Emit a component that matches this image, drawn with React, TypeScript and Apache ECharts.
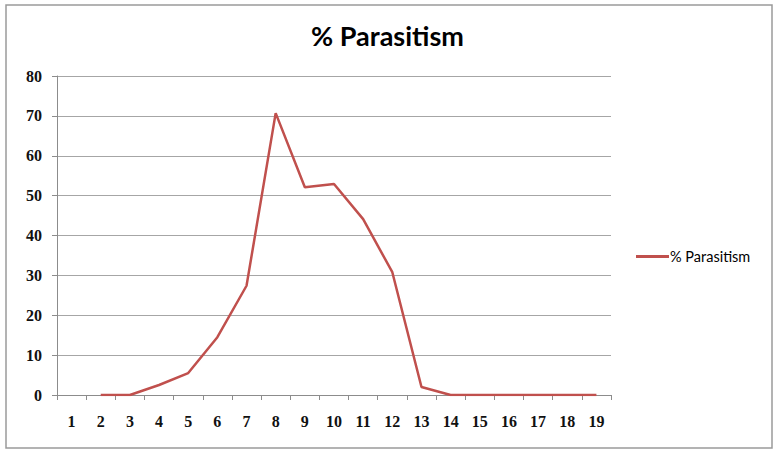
import React, { useEffect, useRef } from "react";
import * as echarts from "echarts";

const categories = ["1", "2", "3", "4", "5", "6", "7", "8", "9", "10", "11", "12", "13", "14", "15", "16", "17", "18", "19"];
const parasitism: (number | null)[] = [null, 0, 0, 2.5, 5.5, 14.5, 27.4, 70.7, 52.1, 52.9, 44.1, 30.8, 2, 0, 0, 0, 0, 0, 0];
const seriesName = "% Parasitism";
const titleText = "% Parasitism";

export default function App() {
  const ref = useRef<HTMLDivElement>(null);
  useEffect(() => {
    if (!ref.current) return;
    const chart = echarts.init(ref.current, undefined, { renderer: "svg" });
    chart.setOption({
      animation: false,
      backgroundColor: "#ffffff",
      title: {
        text: titleText,
        left: "center",
        top: 17,
        textStyle: { fontFamily: "Lato", fontWeight: "bold", fontSize: 27, color: "#000" },
      },
      graphic: [
        {
          type: "rect",
          shape: { x: 6, y: 5, width: 766, height: 443 },
          style: { fill: "none", stroke: "#9a9a9a", lineWidth: 1.5 },
          silent: true,
        },
      ],
      legend: {
        left: 631,
        top: 244,
        icon: "rect",
        itemWidth: 33,
        itemHeight: 3,
        itemGap: 6,
        textStyle: { fontFamily: "Lato", fontSize: 14.5, color: "#000", padding: [0, 0, 0, -4] },
        data: [seriesName],
      },
      grid: { left: 57, right: 164, top: 76, bottom: 55, containLabel: false },
      xAxis: {
        type: "category",
        data: categories,
        boundaryGap: true,
        axisLine: { show: true, lineStyle: { color: "#8c8c8c", width: 1 } },
        axisTick: { show: true, length: 5, inside: false, alignWithLabel: false, lineStyle: { color: "#8c8c8c" } },
        axisLabel: { margin: 18, fontFamily: "Liberation Serif", fontWeight: "bold", fontSize: 16, color: "#111" },
      },
      yAxis: {
        type: "value",
        min: 0,
        max: 80,
        interval: 10,
        axisLine: { show: true, lineStyle: { color: "#8c8c8c", width: 1 } },
        axisTick: { show: true, length: 5, lineStyle: { color: "#8c8c8c" } },
        axisLabel: { margin: 15, fontFamily: "Liberation Serif", fontWeight: "bold", fontSize: 16, color: "#111" },
        splitLine: { show: true, lineStyle: { color: "#a6a6a6", width: 1 } },
      },
      series: [
        {
          name: seriesName,
          type: "line",
          data: parasitism,
          showSymbol: false,
          symbol: "none",
          connectNulls: false,
          itemStyle: { color: "#c0504d" },
          lineStyle: { color: "#c0504d", width: 2.5 },
        },
      ],
    });
    return () => chart.dispose();
  }, []);
  return (
    <div
      ref={ref}
      style={{ position: "absolute", left: 0, top: 0, width: 775, height: 450 }}
    />
  );
}
